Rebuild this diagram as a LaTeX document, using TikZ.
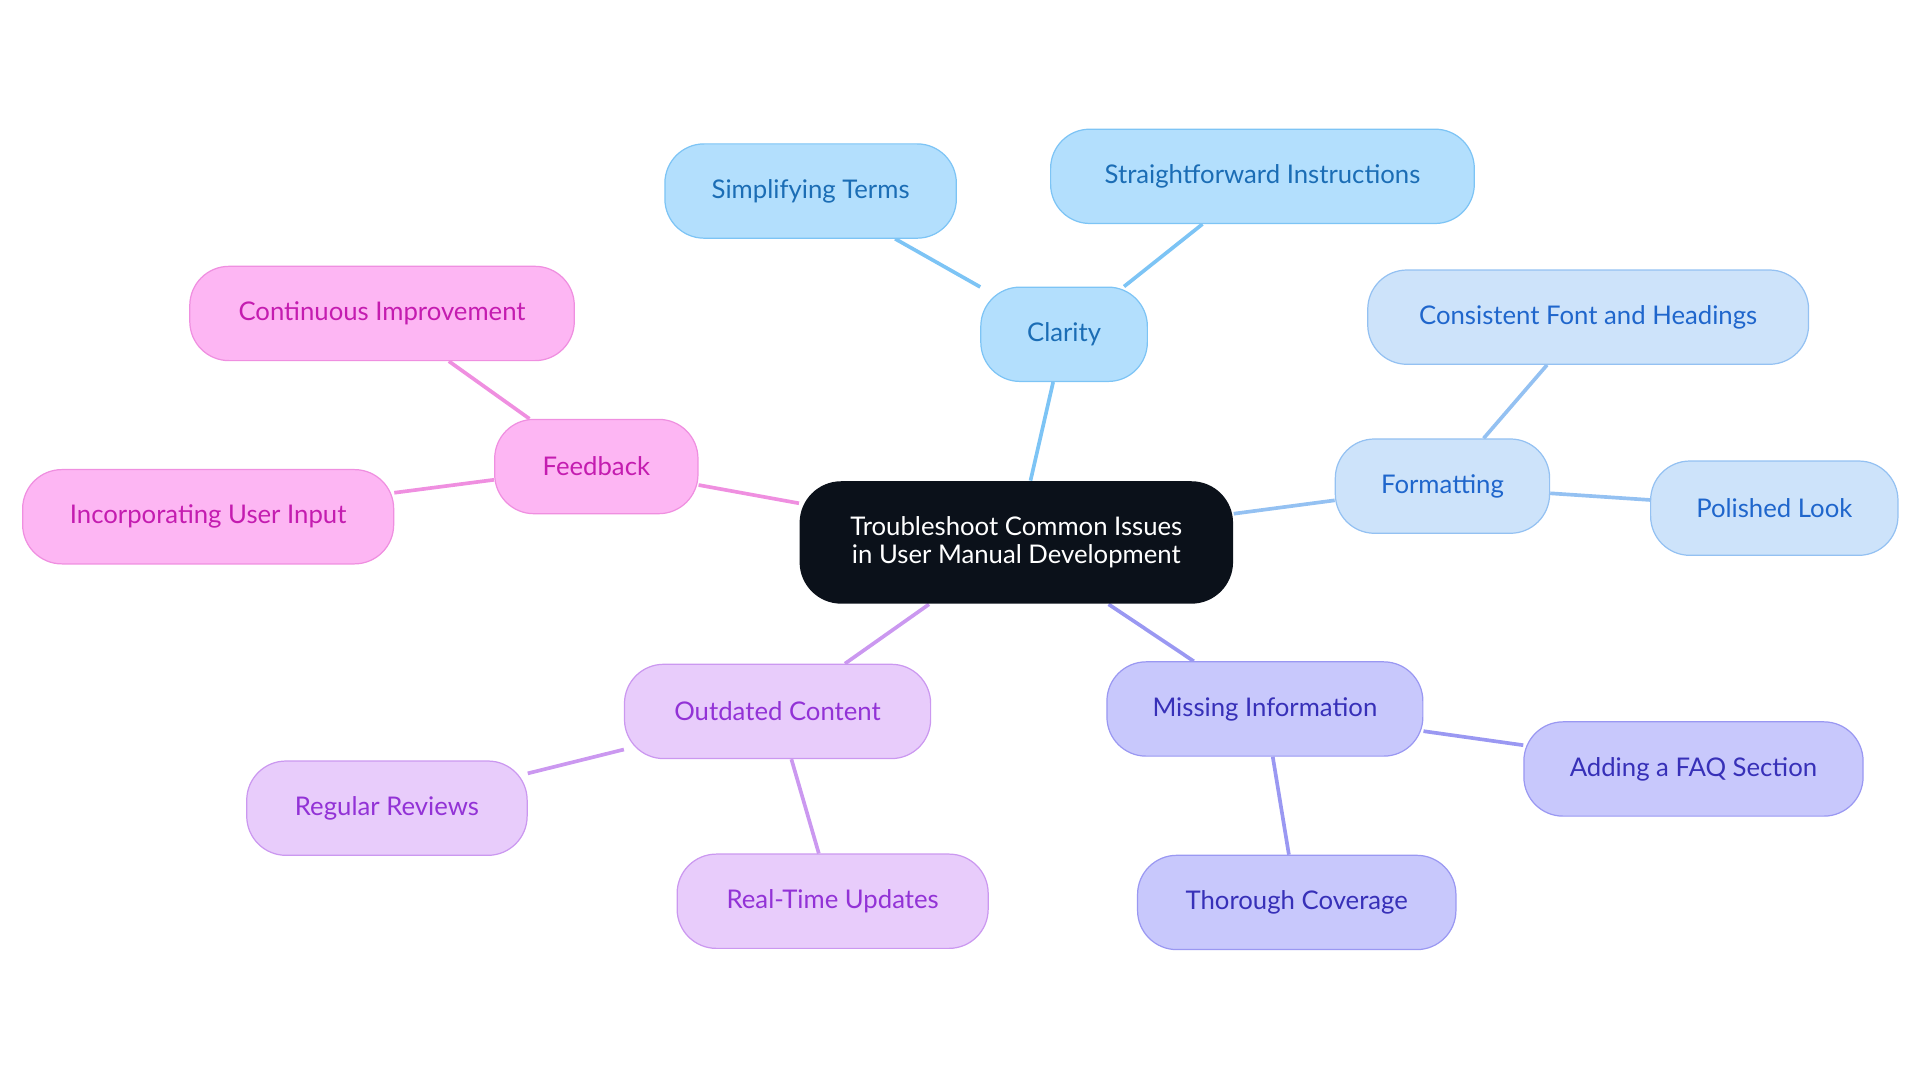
\documentclass[tikz,border=0pt]{standalone}
\usepackage{fontspec}
\setmainfont{Lato}
\usetikzlibrary{backgrounds}
\definecolor{rootc}{HTML}{0B111A}
\definecolor{cf}{HTML}{B3DFFD}\definecolor{cd}{HTML}{7DC4F5}\definecolor{ct}{HTML}{1B6DB5}
\definecolor{ff}{HTML}{CDE3FA}\definecolor{fd}{HTML}{94C1F2}\definecolor{ft}{HTML}{1F66CC}
\definecolor{mf}{HTML}{C8C8FC}\definecolor{md}{HTML}{9A98F2}\definecolor{mt}{HTML}{3730B8}
\definecolor{of}{HTML}{E8CCFB}\definecolor{od}{HTML}{CB98F0}\definecolor{ot}{HTML}{9232D6}
\definecolor{pf}{HTML}{FDB6F3}\definecolor{pd}{HTML}{EF8FE0}\definecolor{pt}{HTML}{C41CB0}
\tikzset{
 box/.style={rounded corners=32pt,minimum height=77pt,font=\fontsize{21}{25}\selectfont,line width=1pt,align=center},
 cb/.style={box,fill=cf,draw=cd,text=ct},
 fb/.style={box,fill=ff,draw=fd,text=ft},
 mb/.style={box,fill=mf,draw=md,text=mt},
 ob/.style={box,fill=of,draw=od,text=ot},
 pb/.style={box,fill=pf,draw=pd,text=pt},
 ln/.style={line width=3pt}
}
\begin{document}
\begin{tikzpicture}[x=1pt,y=-1pt]
\useasboundingbox (0,0) rectangle (1568,884);
\node[box,fill=rootc,text=white,minimum width=354pt,minimum height=100pt,rounded corners=34pt,font=\fontsize{21}{23}\selectfont] (root) at (830,443) {Troubleshoot Common Issues\\in User Manual Development};
\node[cb,minimum width=136pt] (cl) at (869,273) {Clarity};
\node[cb,minimum width=238pt] (st) at (662,156) {Simplifying Terms};
\node[cb,minimum width=346pt] (si) at (1031,144) {Straightforward Instructions};
\node[fb,minimum width=175pt] (fo) at (1178,397) {Formatting};
\node[fb,minimum width=360pt] (cf1) at (1297,259) {Consistent Font and Headings};
\node[fb,minimum width=202pt] (pl) at (1449,415) {Polished Look};
\node[mb,minimum width=258pt] (mi) at (1033,579) {Missing Information};
\node[mb,minimum width=277pt] (fa) at (1383,628) {Adding a FAQ Section};
\node[mb,minimum width=260pt] (th) at (1059,737) {Thorough Coverage};
\node[ob,minimum width=250pt] (oc) at (635,581) {Outdated Content};
\node[ob,minimum width=229pt] (rr) at (316,660) {Regular Reviews};
\node[ob,minimum width=254pt] (rt) at (680,736) {Real-Time Updates};
\node[pb,minimum width=166pt] (fe) at (487,381) {Feedback};
\node[pb,minimum width=314pt] (ci) at (312,256) {Continuous Improvement};
\node[pb,minimum width=303pt] (iu) at (170,422) {Incorporating User Input};
\begin{scope}[on background layer]
\draw[ln,cd] (root) -- (cl); \draw[ln,cd] (cl) -- (st); \draw[ln,cd] (cl) -- (si);
\draw[ln,fd] (root) -- (fo); \draw[ln,fd] (fo) -- (cf1); \draw[ln,fd] (fo) -- (pl);
\draw[ln,md] (root) -- (mi); \draw[ln,md] (mi) -- (fa); \draw[ln,md] (mi) -- (th);
\draw[ln,od] (root) -- (oc); \draw[ln,od] (oc) -- (rr); \draw[ln,od] (oc) -- (rt);
\draw[ln,pd] (root) -- (fe); \draw[ln,pd] (fe) -- (ci); \draw[ln,pd] (fe) -- (iu);
\end{scope}
\end{tikzpicture}
\end{document}
